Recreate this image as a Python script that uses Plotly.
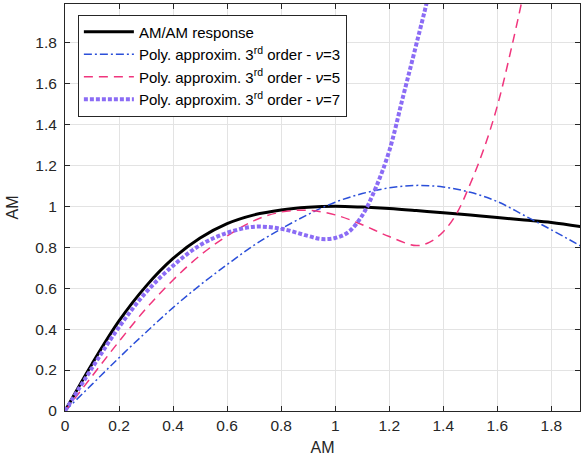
import plotly.graph_objects as go

# AM/AM response (black)
x_resp = [0, 0.1, 0.2, 0.3, 0.4, 0.5, 0.6, 0.7, 0.8, 0.9, 1.0, 1.1, 1.2, 1.3, 1.4, 1.5, 1.6, 1.7, 1.8, 1.91]
y_resp = [0, 0.23, 0.44, 0.61, 0.745, 0.845, 0.915, 0.958, 0.982, 0.995, 1.0, 0.996, 0.989, 0.979, 0.968, 0.957, 0.945, 0.933, 0.921, 0.90]

# Poly approx nu=3 (blue dash-dot)
x_nu3 = [0, 0.1, 0.2, 0.3, 0.4, 0.5, 0.6, 0.7, 0.8, 0.9, 1.0, 1.1, 1.2, 1.3, 1.4, 1.5, 1.6, 1.7, 1.8, 1.91]
y_nu3 = [0, 0.13, 0.26, 0.385, 0.505, 0.615, 0.715, 0.81, 0.89, 0.96, 1.02, 1.062, 1.09, 1.102, 1.094, 1.068, 1.023, 0.955, 0.885, 0.805]

# Poly approx nu=5 (pink dashed)
x_nu5 = [0, 0.1, 0.2, 0.3, 0.4, 0.5, 0.6, 0.7, 0.8, 0.9, 1.0, 1.1, 1.2, 1.3, 1.35, 1.4, 1.45, 1.5, 1.55, 1.6, 1.65, 1.7, 1.75]
y_nu5 = [0, 0.17, 0.34, 0.5, 0.64, 0.76, 0.855, 0.93, 0.972, 0.98, 0.958, 0.91, 0.852, 0.808, 0.825, 0.876, 0.966, 1.11, 1.28, 1.49, 1.76, 2.06, 2.4]

# Poly approx nu=7 (purple dotted)
x_nu7 = [0, 0.1, 0.2, 0.3, 0.4, 0.5, 0.6, 0.7, 0.8, 0.9, 0.95, 1.0, 1.05, 1.1, 1.15, 1.2, 1.25, 1.3, 1.35, 1.4]
y_nu7 = [0, 0.21, 0.41, 0.58, 0.71, 0.81, 0.87, 0.9, 0.89, 0.855, 0.84, 0.845, 0.875, 0.955, 1.09, 1.27, 1.53, 1.79, 2.06, 2.4]

names = [
    "AM/AM response",
    "Poly. approxim. 3<sup>rd</sup> order - <i>\u03bd</i>=3",
    "Poly. approxim. 3<sup>rd</sup> order - <i>\u03bd</i>=5",
    "Poly. approxim. 3<sup>rd</sup> order - <i>\u03bd</i>=7",
]

x_ticks = [0, 0.2, 0.4, 0.6, 0.8, 1, 1.2, 1.4, 1.6, 1.8]
y_ticks = [0, 0.2, 0.4, 0.6, 0.8, 1, 1.2, 1.4, 1.6, 1.8]

FONT = "Liberation Sans, Arial, sans-serif"

fig = go.Figure()
fig.add_trace(go.Scatter(x=x_resp, y=y_resp, mode="lines", name=names[0],
                         line=dict(color="black", width=3, shape="spline")))
fig.add_trace(go.Scatter(x=x_nu3, y=y_nu3, mode="lines", name=names[1],
                         line=dict(color="#2b4fd9", width=1.5, dash="8px,3px,2px,3px", shape="spline")))
fig.add_trace(go.Scatter(x=x_nu5, y=y_nu5, mode="lines", name=names[2],
                         line=dict(color="#f0357d", width=1.5, dash="9px,6px", shape="spline")))
fig.add_trace(go.Scatter(x=x_nu7, y=y_nu7, mode="lines", name=names[3],
                         line=dict(color="#8b6cf5", width=4, dash="4px,2px", shape="spline")))

axis_common = dict(
    showline=True, linecolor="#262626", linewidth=1, mirror="ticks",
    ticks="inside", ticklen=5, tickcolor="#262626",
    showgrid=True, gridcolor="#e3e3e3", gridwidth=1,
    zeroline=False, automargin=False,
    tickfont=dict(family=FONT, size=15.5, color="#262626"),
    title_font=dict(family=FONT, size=16, color="#262626"),
)

fig.update_xaxes(range=[0, 1.906], tickvals=x_ticks, title_text="AM", title_standoff=9,
                 ticklabelstandoff=0, **axis_common)
fig.update_yaxes(range=[0, 1.988], tickvals=y_ticks, title_text="AM", title_standoff=12,
                 ticklabelstandoff=4, **axis_common)

fig.update_layout(
    width=587, height=462,
    margin=dict(l=65, r=7, t=4, b=51),
    plot_bgcolor="white", paper_bgcolor="white",
    font=dict(family=FONT, color="#262626"),
    legend=dict(
        x=0.025, y=0.974, xanchor="left", yanchor="top",
        bgcolor="white", bordercolor="#262626", borderwidth=1,
        font=dict(family=FONT, size=15, color="black"),
        itemwidth=50, tracegroupgap=0,
    ),
    showlegend=True,
)

fig.write_html(
    "out.html",
    config={"displayModeBar": False},
    post_script="document.body.style.margin='0px';document.body.style.padding='0px';",
)
